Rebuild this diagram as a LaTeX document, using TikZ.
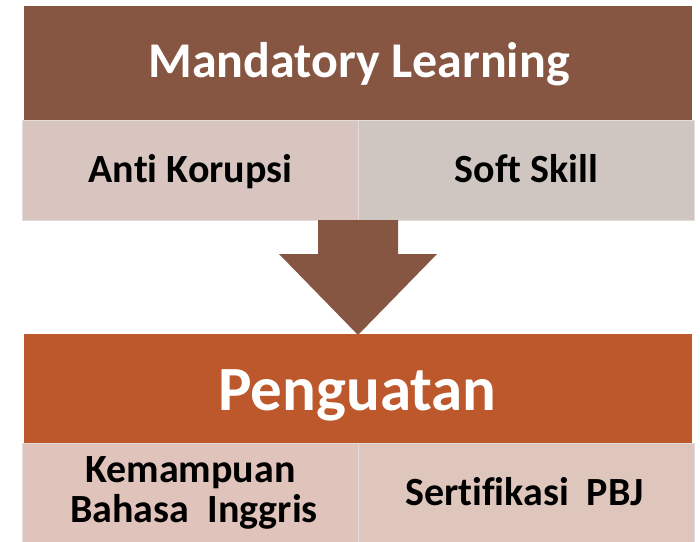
\documentclass[tikz,border=0pt]{standalone}
\usepackage{fontspec}
\setmainfont[Ligatures=NoCommon]{Carlito}
\definecolor{darkbrown}{HTML}{865642}
\definecolor{rust}{HTML}{BC582C}
\definecolor{lightA}{HTML}{D8C5C0}
\definecolor{lightB}{HTML}{D0C6C1}
\definecolor{lightC}{HTML}{E0C3BA}
\definecolor{lightD}{HTML}{DFC6BD}
\definecolor{edgegray}{HTML}{E4DCDA}
\begin{document}
\begin{tikzpicture}[x=1pt,y=-1pt,
  header/.style={draw=none,minimum height=#1,minimum width=668pt,inner sep=0pt,outer sep=0pt,anchor=north west},
  cell/.style={draw=edgegray,line width=1pt,inner sep=0pt,outer sep=0pt,minimum width=336pt,minimum height=#1,anchor=north west},
  celltext/.style={font=\bfseries\fontsize{40}{43}\selectfont,inner sep=0pt,anchor=base},
  headtext/.style={font=\bfseries\fontsize{#1}{#1}\selectfont,text=white,inner sep=0pt,anchor=base},
  arrowshape/.style={fill=darkbrown,draw=none}]
\useasboundingbox (0,0) rectangle (700,541);
\fill[white] (0,0) rectangle (700,541);
% top header
\node[header=114pt,fill=darkbrown] (top) at (24,6) {};
\node[headtext=50] (topt) at (359,77) {Mandatory Learning};
\node[cell=100pt,fill=lightA] (anti) at (22,120) {};
\node[cell=100pt,fill=lightB] (soft) at (358,120) {};
\node[celltext] (antit) at (190.5,182) {Anti Korupsi};
\node[celltext] (softt) at (526.5,182) {Soft Skill};
% arrow
\coordinate (a1) at (318,220);
\fill[arrowshape] (a1) -- (398,220) -- (398,254) -- (437,254) -- (358,335) -- (279,254) -- (318,254) -- cycle;
% bottom header
\node[header=109pt,fill=rust] (pen) at (24,334) {};
\node[headtext=63] (pent) at (357.5,410) {Penguatan};
\node[cell=110pt,fill=lightC] (kem) at (22,443) {};
\node[cell=110pt,fill=lightD] (ser) at (358,443) {};
\node[celltext] (kemt1) at (190.5,482) {Kemampuan};
\node[celltext] (kemt2) at (194,522) {Bahasa\ \ Inggris};
\node[celltext] (sert) at (524.5,505) {Sertifikasi\ \ PBJ};
\end{tikzpicture}
\end{document}
